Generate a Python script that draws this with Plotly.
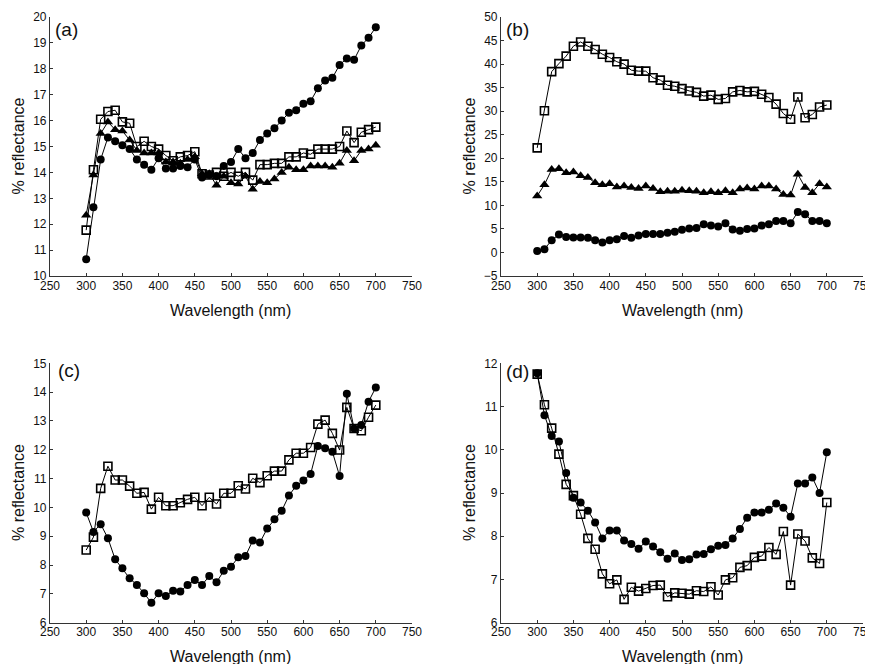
import plotly.graph_objects as go

wavelength = list(range(300, 701, 10))

# Panel (a)
a_circle = [10.65, 12.65, 14.5, 15.35, 15.2, 15.05, 14.9, 14.5, 14.3, 14.1,
            14.55, 14.15, 14.15, 14.25, 14.2, 14.5, 13.8, 13.9, 13.85, 14.25,
            14.4, 14.9, 14.55, 14.75, 15.25, 15.5, 15.7, 16.0, 16.3, 16.4,
            16.65, 16.75, 17.25, 17.55, 17.65, 18.15, 18.4, 18.35, 18.9, 19.2, 19.6]
a_square = [11.77, 14.1, 16.05, 16.35, 16.4, 15.95, 15.9, 15.0, 15.2, 15.0,
            14.9, 14.65, 14.45, 14.6, 14.65, 14.8, 13.95, 13.9, 14.0, 13.85,
            14.0, 13.85, 14.0, 13.7, 14.3, 14.3, 14.35, 14.35, 14.6, 14.6,
            14.75, 14.7, 14.9, 14.9, 14.9, 15.0, 15.6, 15.15, 15.55, 15.65, 15.75]
a_triangle = [12.35, 13.9, 15.5, 15.95, 15.65, 15.6, 15.25, 14.85, 14.75, 14.75,
              14.75, 14.4, 14.4, 14.35, 14.5, 14.6, 13.95, 13.95, 13.5, 13.85,
              13.6, 13.55, 13.85, 13.35, 13.65, 13.6, 13.75, 14.0, 14.2, 14.1,
              14.1, 14.25, 14.25, 14.25, 14.2, 14.35, 14.85, 14.45, 14.85, 14.9, 15.05]

# Panel (b)
b_square = [22.2, 30.1, 38.4, 40.1, 41.7, 43.8, 44.7, 43.8, 43.1, 42.1,
            41.4, 40.5, 40.0, 38.7, 38.5, 38.5, 37.1, 36.6, 35.5, 35.3,
            34.8, 34.3, 34.0, 33.2, 33.4, 32.5, 32.7, 34.1, 34.4, 34.1,
            34.2, 33.6, 32.9, 31.5, 29.5, 28.3, 33.0, 28.6, 29.3, 30.9, 31.3]
b_triangle = [12.0, 14.4, 17.6, 17.8, 16.9, 17.1, 16.3, 15.9, 14.8, 14.4,
              14.6, 13.9, 14.1, 13.8, 13.6, 14.1, 13.6, 12.9, 13.0, 13.0,
              13.2, 13.1, 13.0, 12.7, 12.9, 12.7, 13.1, 12.7, 13.5, 13.7,
              13.5, 14.1, 14.1, 13.5, 12.3, 12.2, 16.6, 13.8, 12.7, 14.6, 13.9]
b_circle = [0.3, 0.7, 2.6, 3.8, 3.3, 3.2, 3.2, 3.1, 2.6, 2.1,
            2.6, 2.8, 3.5, 3.1, 3.6, 3.9, 3.9, 3.9, 4.2, 4.4,
            4.8, 5.1, 5.2, 6.0, 5.7, 5.5, 6.2, 4.9, 4.6, 5.0,
            5.1, 5.7, 6.0, 6.7, 6.7, 6.2, 8.6, 8.1, 6.7, 6.7, 6.2]

# Panel (c)
c_circle = [9.82, 9.15, 9.42, 8.93, 8.2, 7.89, 7.54, 7.31, 7.02, 6.69,
            7.02, 6.93, 7.11, 7.08, 7.31, 7.48, 7.31, 7.62, 7.4, 7.8,
            7.94, 8.27, 8.31, 8.85, 8.78, 9.27, 9.59, 9.88, 10.41, 10.75,
            10.93, 11.16, 12.13, 12.05, 11.93, 11.09, 13.94, 12.74, 12.86, 13.67, 14.16]
c_square = [8.52, 8.97, 10.66, 11.43, 10.95, 10.95, 10.74, 10.49, 10.52, 9.94,
            10.35, 10.06, 10.06, 10.16, 10.28, 10.35, 10.06, 10.35, 10.12, 10.49,
            10.49, 10.75, 10.64, 11.01, 10.86, 11.1, 11.26, 11.26, 11.65, 11.88,
            11.88, 12.08, 12.89, 13.03, 12.57, 11.99, 13.47, 12.74, 12.66, 13.13, 13.55]

# Panel (d)
d_square = [11.75, 11.04, 10.5, 9.9, 9.2, 8.94, 8.51, 7.95, 7.7, 7.13,
            6.9, 6.99, 6.54, 6.82, 6.73, 6.79, 6.86, 6.87, 6.6, 6.69,
            6.68, 6.66, 6.74, 6.72, 6.83, 6.64, 6.99, 7.04, 7.28, 7.32,
            7.51, 7.54, 7.74, 7.58, 8.11, 6.87, 8.05, 7.89, 7.5, 7.37, 8.78]
d_circle = [11.77, 10.8, 10.32, 10.19, 9.46, 8.89, 8.78, 8.59, 8.32, 7.95,
            8.13, 8.13, 7.9, 7.82, 7.71, 7.88, 7.76, 7.63, 7.48, 7.6,
            7.45, 7.47, 7.58, 7.59, 7.7, 7.78, 7.8, 7.95, 8.17, 8.43,
            8.55, 8.55, 8.61, 8.76, 8.66, 8.45, 9.22, 9.22, 9.36, 9.0, 9.94]

x_ticks = [250, 300, 350, 400, 450, 500, 550, 600, 650, 700, 750]
panel_labels = ["(a)", "(b)", "(c)", "(d)"]
x_title = "Wavelength (nm)"
y_title = "% reflectance"

W, H = 873, 664
OFF = 8  # the page body adds an 8px margin; shift the drawing to compensate
FONT = "Liberation Sans, Arial, sans-serif"
INK = "#111111"

fig = go.Figure()

STYLES = {
    "circle": dict(symbol="circle", size=8, color="black", line=dict(width=0, color="black")),
    "square": dict(symbol="square-open", size=8, color="black", line=dict(width=1.6, color="black")),
    "triangle": dict(symbol="triangle-up", size=9, color="black", line=dict(width=0, color="black")),
}

def add_series(y, kind, ax):
    fig.add_trace(go.Scatter(
        x=wavelength, y=y, mode="lines+markers",
        line=dict(color="black", width=1),
        marker=STYLES[kind],
        xaxis="x" + ax, yaxis="y" + ax, showlegend=False, cliponaxis=False,
    ))

add_series(a_circle, "circle", "")
add_series(a_triangle, "triangle", "")
add_series(a_square, "square", "")
add_series(b_circle, "circle", "2")
add_series(b_triangle, "triangle", "2")
add_series(b_square, "square", "2")
add_series(c_circle, "circle", "3")
add_series(c_square, "square", "3")
add_series(d_circle, "circle", "4")
add_series(d_square, "square", "4")

def px(x):
    return (x - OFF) / W

def py(y):
    return 1 - (y - OFF) / H

# pixel boxes in screen coords (left, right, top, bottom)
boxes = [(50, 412, 17, 276), (501, 863, 17, 276), (50, 412, 363.3, 622.7), (501, 863, 363.3, 622.7)]
yranges = [(10, 20, 1), (-5, 50, 5), (6, 15, 1), (6, 12, 1)]

layout = dict(
    template="none",
    width=W, height=H, margin=dict(l=0, r=0, t=0, b=0, autoexpand=False),
    paper_bgcolor="white", plot_bgcolor="white",
    font=dict(family=FONT, color=INK, size=12),
)

for i, ((l, r, t, b), (y0, y1, dt)) in enumerate(zip(boxes, yranges)):
    sfx = "" if i == 0 else str(i + 1)
    layout["xaxis" + sfx] = dict(
        domain=[px(l), px(r)], range=[250, 750], tickvals=x_ticks,
        anchor="y" + sfx, showline=True, linecolor="#333", linewidth=1.2,
        ticks="inside", ticklen=3, tickcolor="#333", showgrid=False, zeroline=False,
        automargin=False, ticklabelstandoff=-2,
        tickfont=dict(size=12, family=FONT, color=INK),
    )
    layout["yaxis" + sfx] = dict(
        domain=[py(b), py(t)], range=[y0, y1], dtick=dt, tick0=y0,
        anchor="x" + sfx, showline=True, linecolor="#333", linewidth=1.2,
        ticks="inside", ticklen=3, tickcolor="#333", showgrid=False, zeroline=False,
        automargin=False,
        tickfont=dict(size=12, family=FONT, color=INK),
    )

fig.update_layout(**layout)

# axis titles as annotations placed at the reference pixel positions
for (l, r, t, b) in boxes:
    fig.add_annotation(
        text=x_title, x=px((l + r) / 2), y=py(b + 34), xref="paper", yref="paper",
        xanchor="center", yanchor="middle", showarrow=False,
        font=dict(size=16, family=FONT, color=INK),
    )
    fig.add_annotation(
        text=y_title, x=px(l - 32), y=py((t + b) / 2), xref="paper", yref="paper",
        xanchor="center", yanchor="middle", showarrow=False, textangle=-90,
        font=dict(size=16, family=FONT, color=INK),
    )

label_pos = [(53, 30), (504, 30), (56, 370), (504, 371)]
for txt, (lx, ly) in zip(panel_labels, label_pos):
    fig.add_annotation(
        text=txt, x=px(lx), y=py(ly), xref="paper", yref="paper",
        xanchor="left", yanchor="middle", showarrow=False,
        font=dict(size=19, family=FONT, color=INK),
    )

fig.write_html("out.html")
